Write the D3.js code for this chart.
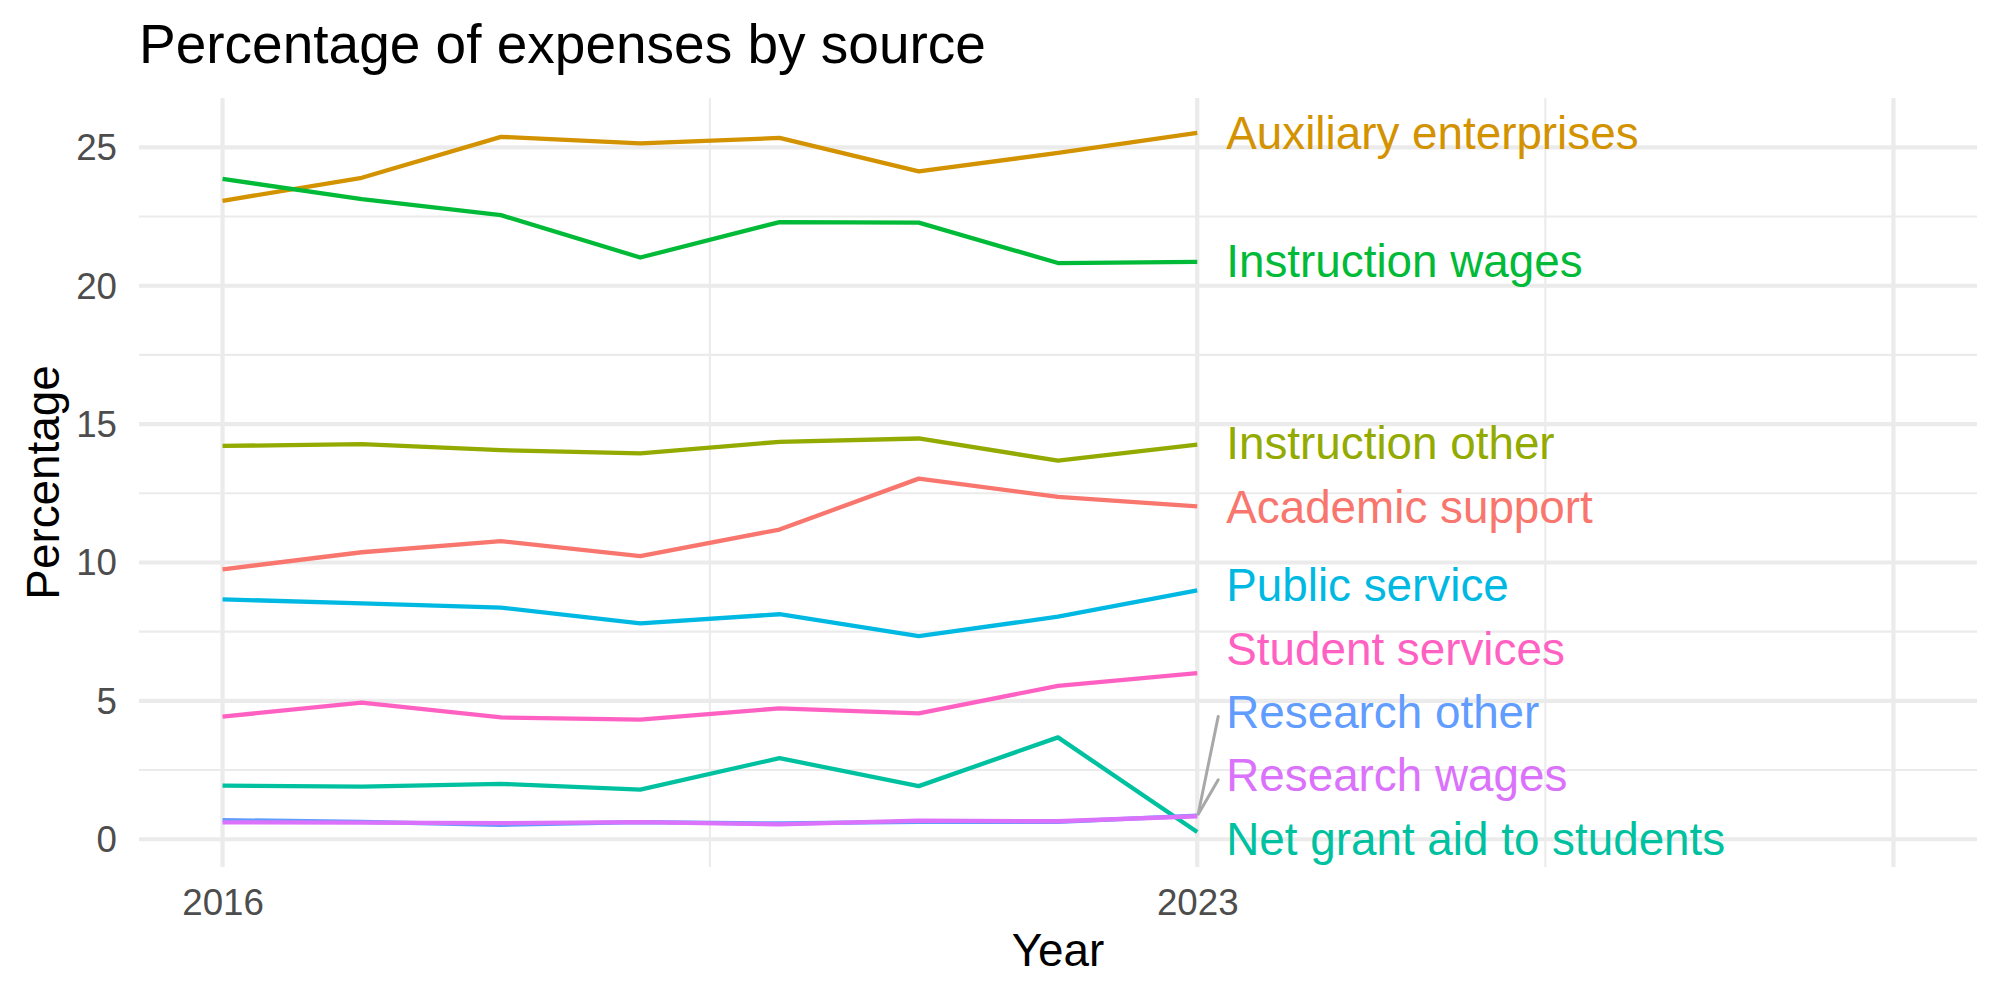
<!DOCTYPE html>
<html>
<head>
<meta charset="utf-8">
<script src="https://cdn.jsdelivr.net/npm/d3@7"></script>
<style>
  html, body { margin: 0; padding: 0; background: #ffffff; }
  svg { display: block; font-family: "Liberation Sans", Arial, Helvetica, sans-serif; }
</style>
</head>
<body>
<svg id="chart" width="2000" height="1000"></svg>
<script>
// ---------------- data ----------------
const years = [2016, 2017, 2018, 2019, 2020, 2021, 2022, 2023];

const seriesNames = [
  "Academic support",
  "Auxiliary enterprises",
  "Instruction other",
  "Instruction wages",
  "Net grant aid to students",
  "Public service",
  "Research other",
  "Research wages",
  "Student services"
];

const academicSupport      = [9.75, 10.37, 10.77, 10.23, 11.19, 13.03, 12.37, 12.03];
const auxiliaryEnterprises = [23.07, 23.90, 25.38, 25.14, 25.34, 24.13, 24.80, 25.52];
const instructionOther     = [14.21, 14.28, 14.06, 13.94, 14.36, 14.48, 13.68, 14.26];
const instructionWages     = [23.86, 23.13, 22.55, 21.02, 22.30, 22.28, 20.82, 20.86];
const netGrantAid          = [1.94, 1.90, 2.00, 1.79, 2.93, 1.92, 3.68, 0.26];
const publicService        = [8.67, 8.52, 8.37, 7.80, 8.13, 7.34, 8.04, 8.99];
const researchOther        = [0.69, 0.63, 0.52, 0.62, 0.57, 0.63, 0.63, 0.85];
const researchWages        = [0.61, 0.60, 0.58, 0.62, 0.54, 0.67, 0.65, 0.83];
const studentServices      = [4.43, 4.94, 4.40, 4.32, 4.73, 4.55, 5.54, 6.00];

const xBreaks = [2016, 2023, 2028];
const xTickLabels = ["2016", "2023", ""];
const xMinorBreaks = [2019.5, 2025.5];
const xLimits = [2016, 2028];
const yBreaks = [0, 5, 10, 15, 20, 25];
const yTickLabels = ["0", "5", "10", "15", "20", "25"];
const yMinorBreaks = [2.5, 7.5, 12.5, 17.5, 22.5];

const titleText = "Percentage of expenses by source";
const xTitle = "Year";
const yTitle = "Percentage";

// ---------------- styles ----------------
const palette = ["#F8766D", "#D39200", "#93AA00", "#00BA38", "#00C19F",
                 "#00B9E3", "#619CFF", "#DB72FB", "#FF61C3"];

const valueLists = [academicSupport, auxiliaryEnterprises, instructionOther, instructionWages,
                    netGrantAid, publicService, researchOther, researchWages, studentServices];

const series = seriesNames.map((name, i) => ({
  name,
  color: palette[i],
  points: years.map((yr, j) => ({ year: yr, value: valueLists[i][j] }))
}));

// ---------------- layout ----------------
const panel = { left: 139, right: 1977, top: 98, bottom: 867 };
const svg = d3.select("#chart");

const xPad = (xLimits[1] - xLimits[0]) * 0.05;
const x = d3.scaleLinear()
  .domain([xLimits[0] - xPad, xLimits[1] + xPad])
  .range([panel.left, panel.right]);

const allValues = valueLists.flat();
const yExt = d3.extent(allValues);
const yPad = (yExt[1] - yExt[0]) * 0.05;
const y = d3.scaleLinear()
  .domain([yExt[0] - yPad, yExt[1] + yPad])
  .range([panel.bottom, panel.top]);

const gridColor = "#EBEBEB";

// minor grid
const grid = svg.append("g");
grid.selectAll("line.ymin").data(yMinorBreaks).join("line")
  .attr("x1", panel.left).attr("x2", panel.right)
  .attr("y1", d => y(d)).attr("y2", d => y(d))
  .attr("stroke", gridColor).attr("stroke-width", 2.1);
grid.selectAll("line.xmin").data(xMinorBreaks).join("line")
  .attr("y1", panel.top).attr("y2", panel.bottom)
  .attr("x1", d => x(d)).attr("x2", d => x(d))
  .attr("stroke", gridColor).attr("stroke-width", 2.1);
// major grid
grid.selectAll("line.ymaj").data(yBreaks).join("line")
  .attr("x1", panel.left).attr("x2", panel.right)
  .attr("y1", d => y(d)).attr("y2", d => y(d))
  .attr("stroke", gridColor).attr("stroke-width", 4.2);
grid.selectAll("line.xmaj").data(xBreaks).join("line")
  .attr("y1", panel.top).attr("y2", panel.bottom)
  .attr("x1", d => x(d)).attr("x2", d => x(d))
  .attr("stroke", gridColor).attr("stroke-width", 4.2);

// axes (labels only)
const tickFont = 36.7;
const yAxis = d3.axisLeft(y).tickValues(yBreaks)
  .tickFormat((d, i) => yTickLabels[i]).tickSize(0).tickPadding(22);
const gy = svg.append("g").attr("transform", `translate(${panel.left},0)`).call(yAxis);
gy.select(".domain").remove();
gy.selectAll("text").attr("font-size", tickFont).attr("fill", "#4D4D4D")
  .attr("font-family", "Liberation Sans, Arial, sans-serif").attr("dy", "0.34em");

const xAxis = d3.axisBottom(x).tickValues(xBreaks)
  .tickFormat((d, i) => xTickLabels[i]).tickSize(0);
const gx = svg.append("g").attr("transform", `translate(0,${panel.bottom})`).call(xAxis);
gx.select(".domain").remove();
gx.selectAll("text").attr("font-size", tickFont).attr("fill", "#4D4D4D")
  .attr("font-family", "Liberation Sans, Arial, sans-serif")
  .attr("dy", null).attr("y", 48);

// lines
const line = d3.line().x(d => x(d.year)).y(d => y(d.value));
svg.append("g").selectAll("path").data(series).join("path")
  .attr("d", d => line(d.points))
  .attr("fill", "none")
  .attr("stroke", d => d.color)
  .attr("stroke-width", 4.3)
  .attr("stroke-linejoin", "round");

// repelled end labels
const labelFont = 45.8;
const spacing = 63.3;
const half = 28;
const lastYear = years[years.length - 1];
const items = series.map(s => {
  const v = s.points[s.points.length - 1].value;
  return { s, py: y(v), ly: y(v) };
}).sort((a, b) => a.py - b.py);

let groups = items.map(it => ({ members: [it] }));
function placeGroup(g) {
  const n = g.members.length;
  let c = d3.mean(g.members, m => m.py);
  let top = c - (n - 1) / 2 * spacing;
  let bot = c + (n - 1) / 2 * spacing;
  const lo = panel.top + half, hi = panel.bottom - half;
  if (bot > hi) { top -= (bot - hi); bot = hi; }
  if (top < lo) { bot += (lo - top); top = lo; }
  g.members.forEach((m, i) => { m.ly = top + i * spacing; });
  g.top = top; g.bot = bot;
}
groups.forEach(placeGroup);
let merged = true;
while (merged) {
  merged = false;
  for (let i = 0; i < groups.length - 1; i++) {
    if (groups[i].bot + spacing > groups[i + 1].top + 0.01) {
      groups[i].members = groups[i].members.concat(groups[i + 1].members);
      groups.splice(i + 1, 1);
      placeGroup(groups[i]);
      merged = true;
      break;
    }
  }
}

const labelX = x(lastYear) + 29;
const segs = items.filter(it => Math.abs(it.ly - it.py) > 35);
svg.append("g").selectAll("line").data(segs).join("line")
  .attr("x1", x(lastYear) + 1).attr("y1", d => d.py - 2)
  .attr("x2", labelX - 8).attr("y2", d => d.ly + 4)
  .attr("stroke", "#A8A8A8").attr("stroke-width", 3)
  .attr("stroke-linecap", "round");

svg.append("g").selectAll("text").data(items).join("text")
  .attr("x", labelX).attr("y", d => d.ly).attr("dy", "0.34em")
  .attr("font-size", labelFont).attr("fill", d => d.s.color)
  .text(d => d.s.name);

// titles
svg.append("text").attr("x", panel.left).attr("y", 63)
  .attr("font-size", 55).attr("fill", "#000").text(titleText);
svg.append("text").attr("x", (panel.left + panel.right) / 2).attr("y", 966)
  .attr("text-anchor", "middle").attr("font-size", 45.8).attr("fill", "#000").text(xTitle);
svg.append("text")
  .attr("transform", `translate(59,${(panel.top + panel.bottom) / 2}) rotate(-90)`)
  .attr("text-anchor", "middle").attr("font-size", 45.8).attr("fill", "#000").text(yTitle);
</script>
</body>
</html>
